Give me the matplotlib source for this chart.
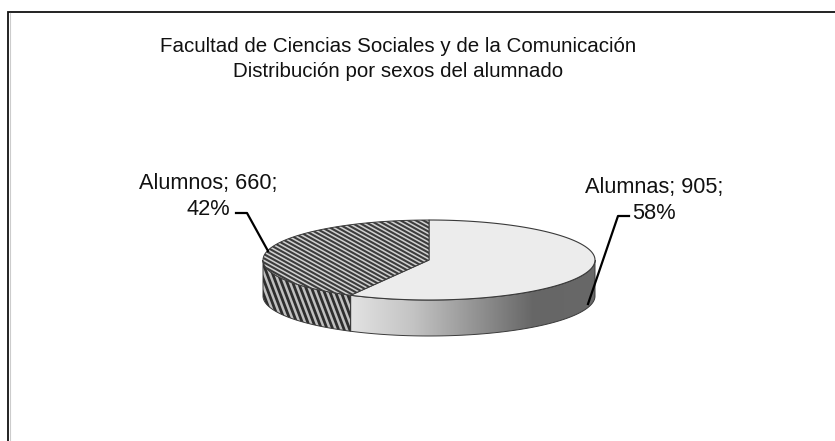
"""Facultad pie: 3D-looking pie drawn by hand in pixel coordinates."""
import matplotlib
matplotlib.use("Agg")
import matplotlib.pyplot as plt
import numpy as np
from matplotlib.collections import LineCollection
from matplotlib.colors import LinearSegmentedColormap
from matplotlib.patches import Polygon

plt.rcParams["font.family"] = ["Liberation Sans", "DejaVu Sans"]

TITLE = "Facultad de Ciencias Sociales y de la Comunicación\nDistribución por sexos del alumnado"
names = ["Alumnos", "Alumnas"]
values = [660, 905]
percents = [42, 58]

# pie geometry, pixels
CX, CY = 429, 260
RX, RY = 166, 40
DEPTH = 36
OUTLINE = "#3a3a3a"


def rim(t0, t1, n=120, dy=0):
    # angle measured from the top, counter-clockwise on screen
    t = np.radians(np.linspace(t0, t1, n))
    return np.column_stack([CX - RX * np.sin(t), CY - RY * np.cos(t) + dy])


split = values[0] / sum(values) * 360

fig = plt.figure(figsize=(8.35, 4.41), dpi=100)
ax = fig.add_axes([0, 0, 1, 1])
ax.set_xlim(0, 835)
ax.set_ylim(441, 0)
ax.axis("off")

# frame: only the top and left edges show
ax.plot([8, 8, 835], [441, 11.5, 11.5], color="#111111", lw=1.3, solid_joinstyle="miter")
ax.plot([9.5, 9.5], [13, 441], color="#cccccc", lw=0.8)

# side of Alumnas, gradient
side_b = np.vstack([rim(split, 270), rim(split, 270, dy=DEPTH)[::-1]])
poly_b = Polygon(side_b, closed=True, fc="none", ec="none")
ax.add_patch(poly_b)
grad = LinearSegmentedColormap.from_list(
    "side", [(0, "#e2e2e2"), (0.25, "#c4c4c4"), (0.55, "#8c8c8c"), (0.75, "#666666"), (1, "#686868")])
im = ax.imshow(np.linspace(0, 1, 256)[None, :], cmap=grad, aspect="auto",
               extent=(CX - 78, CX + RX, CY + RY + DEPTH, CY - 5), zorder=2)
im.set_clip_path(poly_b)
ax.set_xlim(0, 835)
ax.set_ylim(441, 0)
ax.add_patch(Polygon(side_b, closed=True, fc="none", ec=OUTLINE, lw=0.7, zorder=3))

# side of Alumnos, steep stripes
side_a = np.vstack([rim(90, split), rim(90, split, dy=DEPTH)[::-1]])
poly_a = Polygon(side_a, closed=True, fc="#c0c0c0", ec="none", zorder=2)
ax.add_patch(poly_a)
segs = [[(x, CY - 10), (x + 36, CY + 85)] for x in np.arange(230, 360, 5.6)]
lc = LineCollection(segs, colors="#2e2e2e", linewidths=2.0, zorder=2.5)
ax.add_collection(lc)
lc.set_clip_path(poly_a)
ax.add_patch(Polygon(side_a, closed=True, fc="none", ec=OUTLINE, lw=0.7, zorder=3))

# top of Alumnas
top_b = np.vstack([[(CX, CY)], rim(split, 360)])
ax.add_patch(Polygon(top_b, closed=True, fc="#ececec", ec=OUTLINE, lw=0.8, zorder=4))

# top of Alumnos, shallow stripes
top_a = np.vstack([[(CX, CY)], rim(0, split)])
poly_t = Polygon(top_a, closed=True, fc="#d0d0d0", ec="none", zorder=4)
ax.add_patch(poly_t)
segs = [[(250, y), (440, y + 105)] for y in np.arange(70, 320, 4.2)]
lc = LineCollection(segs, colors="#3c3c3c", linewidths=1.5, zorder=4.5)
ax.add_collection(lc)
lc.set_clip_path(poly_t)
ax.add_patch(Polygon(top_a, closed=True, fc="none", ec=OUTLINE, lw=0.7, zorder=5))

# leader lines
ax.plot([236, 247, 268], [213, 213, 251], color="black", lw=1.6, zorder=6)
ax.plot([629, 618, 588], [216, 216, 304], color="black", lw=1.6, zorder=6)

# labels
label_pos = [(208, 196.5), (654, 200.5)]
for name, val, pct, (x, y) in zip(names, values, percents, label_pos):
    ax.text(x, y, f"{name}; {val};\n{pct}%", ha="center", va="center",
            fontsize=15.7, linespacing=1.34, color="#111111", zorder=7)

ax.text(398, 59, TITLE, ha="center", va="center", fontsize=14.8,
        linespacing=1.42, color="#111111")

fig.savefig("out.png", dpi=100, facecolor="white")
